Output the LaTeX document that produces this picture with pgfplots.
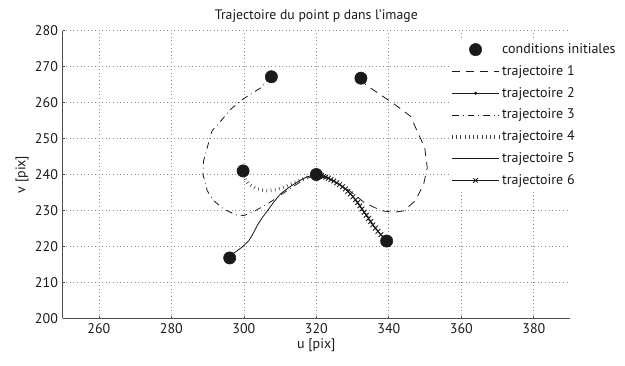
\documentclass[border=0pt]{standalone}
\usepackage{pgfplots}
\pgfplotsset{compat=1.18}
\usepackage{fontspec}
\setmainfont{PT Sans}
\usetikzlibrary{decorations.pathreplacing}
\definecolor{ink}{HTML}{1A1A1A}
\definecolor{gridc}{HTML}{8A8A8A}
\begin{document}
\begin{tikzpicture}
\begin{axis}[name=ax, scale only axis, width=380.6pt, height=215.7pt,
  xmin=250, xmax=390, ymin=200, ymax=280,
  xtick={260,280,...,380}, ytick={200,210,...,280},
  axis x line=bottom, axis y line=left,
  axis line style={-, line width=0.8pt, color=black!70},
  major tick length=2pt, tick align=inside, tick style={color=black!70, line width=0.5pt},
  grid=major, grid style={color=gridc, line width=0.5pt, dash pattern=on 0.5pt off 2.2pt},
  /pgf/number format/assume math mode=true,
  tick label style={font=\fontsize{10.5}{12}\selectfont, color=ink},
  title={Trajectoire du point p dans l’image},
  title style={font=\fontsize{10.3}{12}\selectfont, color=ink, yshift=-3pt},
  xlabel={u [pix]}, ylabel={v [pix]},
  label style={font=\fontsize{10.5}{12}\selectfont, color=ink},
  xlabel style={yshift=3pt}, ylabel style={yshift=-2pt},
  legend cell align=left,
  legend style={at={(0.7635,0.970)}, anchor=north west, draw=none, fill=white,
    font=\fontsize{10.5}{12}\selectfont, row sep=3.4pt, inner sep=1pt, text=ink},
  legend image code/.code={\draw[mark repeat=2,mark phase=2] plot coordinates {(0cm,0cm) (0.62cm,0cm) (1.24cm,0cm)};},
]
% conditions initiales
\addplot[only marks, mark=*, mark size=4.6pt, color=ink] coordinates {
(307.6,267.2) (332.3,266.8) (299.8,241.0) (320.0,240.0) (296.1,216.8) (339.4,221.5)};
\addlegendentry{conditions initiales}
% trajectoire 1
\addplot[ink, line width=0.6pt, dash pattern=on 6pt off 4.5pt] coordinates {
(332.3,266.8) (333.6,265.0) (337.7,262.2) (342.3,259.0) (346.0,256.2) (347.8,252.1)
(349.9,247.5) (350.6,241.9) (349.6,237.3) (347.3,232.7) (344.1,229.9) (341.4,229.5)
(338.2,229.9) (335.9,230.9) (333.1,232.3) (330.5,234.5) (327.5,236.6) (324.5,238.4)
(322.0,239.5) (320.0,240.0)};
\addlegendentry{trajectoire 1}
% trajectoire 2
\addplot[ink, line width=0.6pt, mark=*, mark size=0.9pt] coordinates {
(320.0,240.0) (320.0,240.0)};
\addlegendentry{trajectoire 2}
% trajectoire 3
\addplot[ink, line width=0.6pt, dash pattern=on 5pt off 3pt on 0.6pt off 3pt] coordinates {
(307.6,267.2) (304.6,264.1) (299.5,260.8) (296.3,258.1) (294.0,255.3) (291.2,252.1)
(289.9,247.5) (288.9,243.8) (288.7,240.1) (289.9,235.5) (291.7,232.7) (294.5,230.4)
(297.7,228.8) (300.0,228.6) (302.3,229.5) (306.0,231.5) (309.5,233.8) (313.0,236.3)
(316.5,238.5) (320.0,240.0)};
\addlegendentry{trajectoire 3}
% trajectoire 4
\addplot[black!75, line width=0.45pt, decorate, decoration={ticks, segment length=3.2pt, amplitude=1.3pt}] coordinates {
(299.8,241.0) (300.5,238.5) (301.5,237.2) (303.7,235.9) (306.5,235.5) (309.2,235.9)
(312.0,236.9) (314.8,238.1) (317.5,239.2) (320.0,240.0)};
\addlegendentry{trajectoire 4}
% trajectoire 5
\addplot[ink, line width=0.6pt] coordinates {
(296.1,216.8) (297.2,218.1) (299.5,219.8) (301.4,221.6) (302.5,223.5) (303.7,225.8)
(305.0,227.9) (306.5,229.9) (308.3,232.4) (310.1,234.6) (312.0,236.1) (313.8,237.3)
(315.7,238.5) (317.5,239.4) (320.0,240.0)};
\addlegendentry{trajectoire 5}
% trajectoire 6
\addplot[ink, line width=0.6pt, mark=x, mark size=2.5pt, mark options={line width=0.65pt}] coordinates {
(339.4,221.5) (338.6,222.4) (337.8,223.3) (337.0,224.2) (336.3,225.1) (335.6,226.0)
(335.0,226.9) (334.4,227.8) (333.8,228.7) (333.2,229.5) (332.6,230.4) (332.0,231.3)
(331.4,232.2) (330.8,233.0) (330.1,233.8) (329.4,234.6) (328.7,235.3) (328.0,236.0)
(327.2,236.6) (326.4,237.2) (325.6,237.7) (324.8,238.2) (324.0,238.6) (323.3,239.0)
(322.6,239.3) (322.0,239.5) (321.4,239.7) (320.9,239.85) (320.5,239.95) (320.2,240.0)
(320.0,240.0)};
\addlegendentry{trajectoire 6}
\end{axis}
\pgfresetboundingbox
\path[use as bounding box] ([shift={(-46.95pt,-35pt)}]ax.south west) rectangle ++(468.75pt,273.75pt);
\end{tikzpicture}
\end{document}
